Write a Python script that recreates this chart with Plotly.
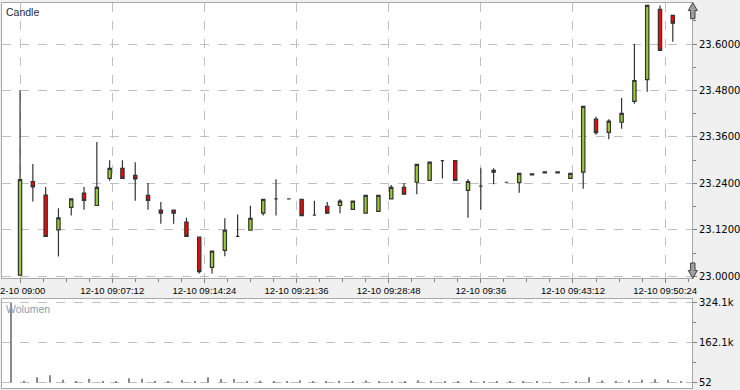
import pandas as pd
import plotly.graph_objects as go

# ---------------- data ----------------
start = pd.Timestamp("2023-12-10 09:00:00")
times = pd.date_range(start, periods=52, freq="min")

opens = [23.003, 23.245, 23.210, 23.120, 23.178, 23.215, 23.183, 23.253, 23.279, 23.261,
         23.209, 23.171, 23.171, 23.140, 23.101, 23.023, 23.067, 23.103, 23.119, 23.163,
         23.200, 23.200, 23.199, 23.158, 23.181, 23.183, 23.173, 23.163, 23.168, 23.200,
         23.230, 23.243, 23.248, 23.299, 23.299, 23.222, 23.233, 23.274, 23.243, 23.242,
         23.262, 23.267, 23.267, 23.253, 23.269, 23.406, 23.372, 23.398, 23.452, 23.508,
         23.690, 23.674]
highs = [23.481, 23.290, 23.231, 23.176, 23.200, 23.231, 23.347, 23.300, 23.300, 23.295,
         23.241, 23.192, 23.171, 23.151, 23.101, 23.065, 23.150, 23.160, 23.182, 23.199,
         23.251, 23.200, 23.199, 23.195, 23.192, 23.199, 23.194, 23.209, 23.209, 23.236,
         23.241, 23.289, 23.295, 23.299, 23.299, 23.251, 23.279, 23.279, 23.243, 23.266,
         23.265, 23.270, 23.270, 23.266, 23.439, 23.412, 23.406, 23.461, 23.600, 23.700,
         23.700, 23.674]
lows = [23.003, 23.193, 23.103, 23.051, 23.157, 23.172, 23.183, 23.247, 23.253, 23.195,
        23.172, 23.136, 23.136, 23.103, 23.007, 23.007, 23.052, 23.103, 23.119, 23.157,
        23.157, 23.200, 23.157, 23.158, 23.163, 23.163, 23.173, 23.163, 23.168, 23.200,
        23.212, 23.212, 23.248, 23.253, 23.248, 23.151, 23.172, 23.238, 23.243, 23.216,
        23.262, 23.267, 23.267, 23.253, 23.226, 23.366, 23.354, 23.381, 23.446, 23.477,
        23.584, 23.606]
closes = [23.250, 23.231, 23.103, 23.151, 23.200, 23.196, 23.230, 23.279, 23.253, 23.252,
          23.196, 23.163, 23.163, 23.103, 23.012, 23.065, 23.119, 23.103, 23.150, 23.199,
          23.200, 23.200, 23.157, 23.158, 23.163, 23.194, 23.194, 23.209, 23.209, 23.230,
          23.212, 23.289, 23.295, 23.299, 23.248, 23.245, 23.233, 23.269, 23.243, 23.266,
          23.265, 23.270, 23.270, 23.266, 23.439, 23.371, 23.401, 23.421, 23.506, 23.700,
          23.584, 23.654]
volumes = [324100, 8000, 22000, 30000, 12000, 5000, 16000, 7000, 4000, 18000,
           16000, 4000, 7000, 11000, 4000, 22000, 15000, 15000, 4000, 8000,
           6000, 3000, 10000, 5000, 6000, 8000, 5000, 9000, 7000, 6000,
           5000, 10000, 8000, 4000, 7000, 9000, 6000, 4000, 3000, 6000,
           3000, 52, 2000, 5000, 22000, 9000, 8000, 10000, 12000, 14000,
           12000, 6000]

x_tick_vals = [start + pd.Timedelta(seconds=432 * k) for k in range(8)]
x_tick_text = ["12-10 09:00", "12-10 09:07:12", "12-10 09:14:24", "12-10 09:21:36",
               "12-10 09:28:48", "12-10 09:36", "12-10 09:43:12", "12-10 09:50:24"]
vol_tick_vals = [52, 162076, 324100]
vol_tick_text = ["52", "162.1k", "324.1k"]

# ---------------- figure ----------------
W, H = 740, 390
L, R, T, B = 2, 48, 2, 2
pw, ph = W - L - R, H - T - B


def px(x):
    return (x - L) / pw


def py(y):
    return (H - B - y) / ph


def tstr(ts):
    return ts.strftime("%Y-%m-%d %H:%M:%S.%f")[:-3]


line_style = dict(color="#333333", width=1.2)
fig = go.Figure()
fig.add_trace(go.Candlestick(
    x=times, open=opens, high=highs, low=lows, close=closes,
    increasing=dict(fillcolor="#99CC33", line=line_style),
    decreasing=dict(fillcolor="#FF0000", line=line_style),
    whiskerwidth=0, showlegend=False, hoverinfo="skip",
    xaxis="x", yaxis="y"))
fig.add_trace(go.Bar(
    x=times, y=volumes, width=6000, marker=dict(color="#8A8A8A", line=dict(width=0)),
    showlegend=False, xaxis="x2", yaxis="y2", hoverinfo="skip"))

grid = dict(showgrid=True, gridcolor="#C0C0C0", griddash="dash", gridwidth=1)
frame = dict(showline=True, linecolor="#A8A8A8", linewidth=1, mirror=True,
             zeroline=False, automargin=False)
tickfont_x = dict(family="Liberation Sans, Arial, sans-serif", size=9.5, color="#000000")
tickfont_y = dict(family="DejaVu Sans, sans-serif", size=10, color="#000000")

main_top = py(2.5)
main_bot = py(278)
vol_top = py(299)

fig.update_layout(
    width=W, height=H,
    margin=dict(l=L, r=R, t=T, b=B, pad=0, autoexpand=False),
    paper_bgcolor="#F0F0F0", plot_bgcolor="#FFFFFF",
    boxgap=0.63,
    xaxis=dict(
        type="date", domain=[0, 1], anchor="y",
        range=[tstr(start - pd.Timedelta(seconds=84.6)),
               tstr(start + pd.Timedelta(seconds=52.5 * 60))],
        tickmode="array", tickvals=x_tick_vals, ticktext=x_tick_text,
        ticks="outside", ticklen=4, tickcolor="#808080", tickfont=tickfont_x,
        ticklabeloverflow="allow",
        minor=dict(ticks="outside", ticklen=3, tickcolor="#808080", dtick=108000,
                   tick0=tstr(start), showgrid=False),
        rangeslider=dict(visible=False), **grid, **frame),
    yaxis=dict(
        domain=[main_bot, main_top], anchor="x", side="right",
        range=[22.9956, 23.7075], tick0=23.0, dtick=0.12, tickformat=".4f",
        ticks="outside", ticklen=4, tickcolor="#808080", tickfont=tickfont_y,
        ticklabeloverflow="allow",
        minor=dict(ticks="outside", ticklen=3, tickcolor="#808080", dtick=0.06,
                   tick0=23.0, showgrid=False),
        **grid, **frame),
    xaxis2=dict(
        type="date", domain=[0, 1], anchor="y2",
        range=[tstr(start - pd.Timedelta(seconds=39.6)),
               tstr(start + pd.Timedelta(seconds=51.8 * 60))],
        showticklabels=False, ticks="", showgrid=False, **frame),
    yaxis2=dict(
        domain=[0, vol_top], anchor="x2", side="right",
        range=[-21400, 339100], tickmode="array", tickvals=vol_tick_vals,
        ticktext=vol_tick_text, ticks="outside", ticklen=4, tickcolor="#808080",
        tickfont=tickfont_y, ticklabeloverflow="allow",
        minor=dict(ticks="outside", ticklen=3, tickcolor="#808080", dtick=81012,
                   tick0=52, showgrid=False),
        **grid, **frame),
    annotations=[
        dict(text="Candle", xref="paper", yref="paper", x=px(4), y=py(4),
             xanchor="left", yanchor="top", showarrow=False,
             font=dict(family="Liberation Sans, Arial, sans-serif", size=10.5,
                       color="#24283a")),
        dict(text="Wolumen", xref="paper", yref="paper", x=px(4), y=py(300.5),
             xanchor="left", yanchor="top", showarrow=False,
             font=dict(family="Liberation Sans, Arial, sans-serif", size=10.5,
                       color="#8E9BB0")),
    ],
)


def arrow_path(up):
    if up:
        pts = [(692.8, 2.7), (697.3, 10.5), (695.0, 10.5), (695.0, 18.7),
               (690.6, 18.7), (690.6, 10.5), (688.3, 10.5)]
    else:
        pts = [(692.8, 278.3), (697.3, 270.5), (695.0, 270.5), (695.0, 263.0),
               (690.6, 263.0), (690.6, 270.5), (688.3, 270.5)]
    return "M " + " L ".join(f"{px(a):.5f},{py(b):.5f}" for a, b in pts) + " Z"


for up in (True, False):
    fig.add_shape(type="path", xref="paper", yref="paper", path=arrow_path(up),
                  fillcolor="#A0A0A0", line=dict(color="#404040", width=1), layer="above")

fig.write_html(
    "out.html",
    config={"displayModeBar": False},
    post_script="document.body.style.margin='0';document.body.style.padding='0';"
                "document.body.style.overflow='hidden';",
)
